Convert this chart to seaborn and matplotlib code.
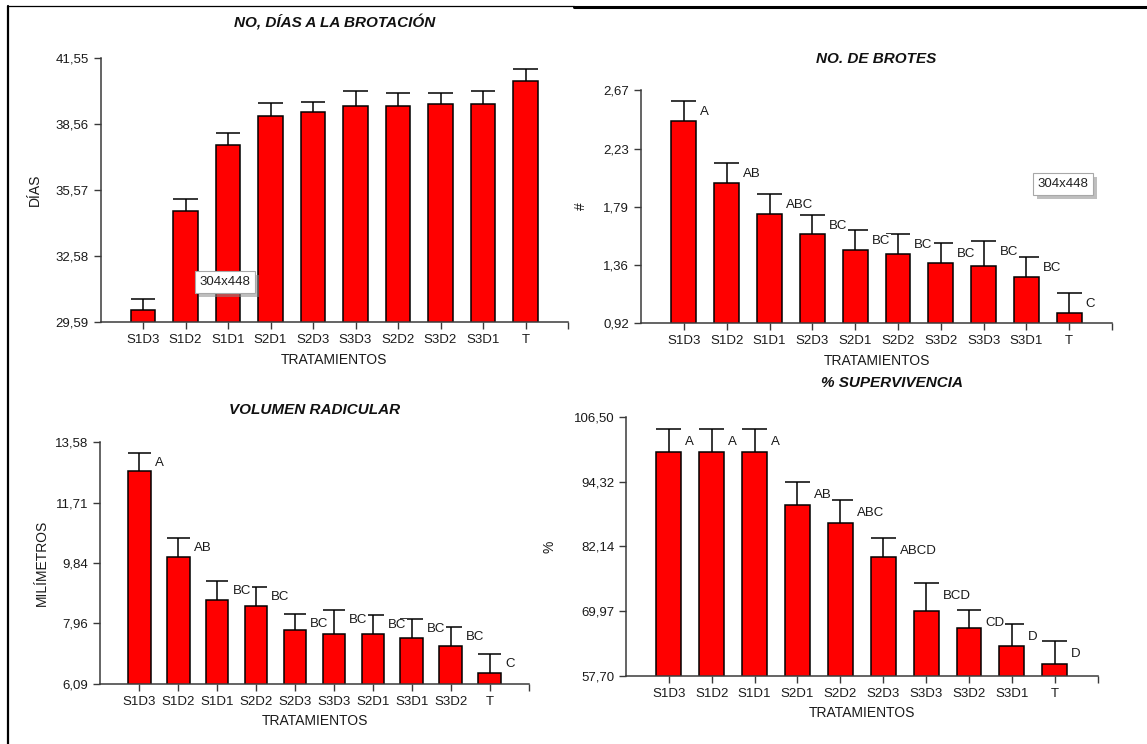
import matplotlib
matplotlib.use('Agg')
import numpy as np
import pandas as pd
import matplotlib.pyplot as plt
import seaborn as sns
from matplotlib.lines import Line2D
from matplotlib.patches import Rectangle

# --- data ---
trat_dias = ['S1D3', 'S1D2', 'S1D1', 'S2D1', 'S2D3', 'S3D3', 'S2D2', 'S3D2', 'S3D1', 'T']
dias = [30.12, 34.63, 37.61, 38.91, 39.07, 39.37, 39.37, 39.43, 39.43, 40.49]
dias_err = [0.52, 0.51, 0.51, 0.58, 0.48, 0.65, 0.59, 0.53, 0.59, 0.52]
dias_ticks = [29.59, 32.58, 35.57, 38.56, 41.55]

trat_brotes = ['S1D3', 'S1D2', 'S1D1', 'S2D3', 'S2D1', 'S2D2', 'S3D2', 'S3D3', 'S3D1', 'T']
brotes = [2.44, 1.97, 1.74, 1.59, 1.47, 1.44, 1.37, 1.35, 1.27, 1.00]
brotes_err = [0.15, 0.15, 0.15, 0.14, 0.15, 0.15, 0.15, 0.19, 0.15, 0.15]
brotes_letras = ['A', 'AB', 'ABC', 'BC', 'BC', 'BC', 'BC', 'BC', 'BC', 'C']
brotes_ticks = [0.92, 1.36, 1.79, 2.23, 2.67]

trat_vol = ['S1D3', 'S1D2', 'S1D1', 'S2D2', 'S2D3', 'S3D3', 'S2D1', 'S3D1', 'S3D2', 'T']
volumen = [12.68, 10.03, 8.70, 8.51, 7.75, 7.63, 7.63, 7.52, 7.27, 6.42]
volumen_err = [0.58, 0.58, 0.59, 0.59, 0.51, 0.74, 0.58, 0.59, 0.58, 0.59]
vol_letras = ['A', 'AB', 'BC', 'BC', 'BC', 'BC', 'BC', 'BC', 'BC', 'C']
vol_ticks = [6.09, 7.96, 9.84, 11.71, 13.58]

trat_sup = ['S1D3', 'S1D2', 'S1D1', 'S2D1', 'S2D2', 'S2D3', 'S3D3', 'S3D2', 'S3D1', 'T']
superv = [100.0, 100.0, 100.0, 90.0, 86.6, 80.2, 69.9, 66.8, 63.3, 59.9]
superv_err = [4.3, 4.3, 4.3, 4.3, 4.2, 3.5, 5.3, 3.4, 4.2, 4.4]
sup_letras = ['A', 'A', 'A', 'AB', 'ABC', 'ABCD', 'BCD', 'CD', 'D', 'D']
sup_ticks = [57.70, 69.97, 82.14, 94.32, 106.50]

W = 0.58
SPINE = '#3a3a3a'

sns.set_style('ticks')
plt.rcParams['font.family'] = ['Liberation Sans', 'DejaVu Sans']


def fmt(v):
    return f'{v:.2f}'.replace('.', ',')


def draw_panel(ax, cats, vals, errs, letras, ticks, title, ylabel,
               title_x=0.5, ylab_x=-0.12, lab_dy=-11):
    df = pd.DataFrame({'trat': cats, 'val': vals})
    sns.barplot(data=df, x='trat', y='val', order=cats, color='#ff0000',
                saturation=1, edgecolor='black', linewidth=1.1, width=W, ax=ax)
    x = np.arange(len(cats))
    vals = np.asarray(vals)
    tops = vals + np.asarray(errs)
    ax.vlines(x, vals, tops, color='black', lw=1.1, zorder=3)
    ax.hlines(tops, x - W / 2, x + W / 2, color='black', lw=1.1, zorder=3)

    # significance letters, white box hides part of the neighbour's cap
    if letras:
        for i, lt in enumerate(letras):
            ax.annotate(lt, xy=(i + W / 2, tops[i]), xytext=(4, lab_dy),
                        textcoords='offset pixels', ha='left', va='center',
                        fontsize=9.5, color='#1a1a1a', zorder=6,
                        bbox=dict(fc='white', ec='none', pad=0.6))

    ax.set_xlim(-1, 10)
    ax.set_ylim(ticks[0], ticks[-1])
    ax.set_yticks(ticks)
    ax.set_yticklabels([fmt(t) for t in ticks])
    ax.set_xticks([10], minor=True)
    ax.tick_params(which='both', direction='out', length=5, width=1,
                   color=SPINE, labelsize=9.5, labelcolor='#1a1a1a')
    for s in ['top', 'right']:
        ax.spines[s].set_visible(False)
    for s in ['left', 'bottom']:
        ax.spines[s].set_color(SPINE)
        ax.spines[s].set_linewidth(1.1)

    ax.set_xlabel('TRATAMIENTOS', fontsize=10, color='#1a1a1a', labelpad=5)
    ax.set_ylabel(ylabel, fontsize=10, color='#1a1a1a')
    ax.yaxis.set_label_coords(ylab_x, 0.5)
    ax.text(title_x, 1.133, title, transform=ax.transAxes, ha='center',
            va='center', fontsize=11, fontweight='bold', style='italic',
            color='#111111')


fig = plt.figure(figsize=(11.47, 7.44), dpi=100)
fig.patch.set_facecolor('white')

ax1 = fig.add_axes([0.0877, 0.5672, 0.4075, 0.3555])
ax2 = fig.add_axes([0.5589, 0.5655, 0.4106, 0.3136])
ax3 = fig.add_axes([0.0875, 0.0810, 0.3733, 0.3245])
ax4 = fig.add_axes([0.5458, 0.0918, 0.4111, 0.3473])

draw_panel(ax1, trat_dias, dias, dias_err, None, dias_ticks,
           'NO, DÍAS A LA BROTACIÓN', 'DÍAS', ylab_x=-0.125)
draw_panel(ax2, trat_brotes, brotes, brotes_err, brotes_letras, brotes_ticks,
           'NO. DE BROTES', '#', ylab_x=-0.112)
draw_panel(ax3, trat_vol, volumen, volumen_err, vol_letras, vol_ticks,
           'VOLUMEN RADICULAR', 'MILÍMETROS', ylab_x=-0.12, lab_dy=-10)
draw_panel(ax4, trat_sup, superv, superv_err, sup_letras, sup_ticks,
           '% SUPERVIVENCIA', '%', title_x=0.565, ylab_x=-0.148, lab_dy=-13)

# page frame lines of the scanned document
fig.add_artist(Line2D([8 / 1147, 8 / 1147], [1 - 6 / 744, 0],
                      transform=fig.transFigure, color='black', lw=1.6))
fig.add_artist(Line2D([8 / 1147, 574 / 1147], [1 - 6 / 744, 1 - 6 / 744],
                      transform=fig.transFigure, color='black', lw=0.9))
fig.add_artist(Line2D([574 / 1147, 1], [1 - 6.5 / 744, 1 - 6.5 / 744],
                      transform=fig.transFigure, color='black', lw=2.2))

# size tooltips captured in the screenshot (box with a drop shadow)
for cx, cy in [(225, 282), (1063, 184)]:
    bw, bh = 60, 22
    fig.add_artist(Rectangle(((cx - bw / 2 + 4) / 1147, 1 - (cy + bh / 2 + 4) / 744),
                             bw / 1147, bh / 744, transform=fig.transFigure,
                             fc='#8c8c8c', ec='none', alpha=0.55, zorder=9))
    fig.add_artist(Rectangle(((cx - bw / 2) / 1147, 1 - (cy + bh / 2) / 744),
                             bw / 1147, bh / 744, transform=fig.transFigure,
                             fc='white', ec='#a8a8a8', lw=0.8, zorder=10))
    fig.text(cx / 1147, 1 - cy / 744, '304x448', ha='center', va='center',
             fontsize=9.5, color='#222222', zorder=11)

fig.savefig('out.png', dpi=100, facecolor='white')
